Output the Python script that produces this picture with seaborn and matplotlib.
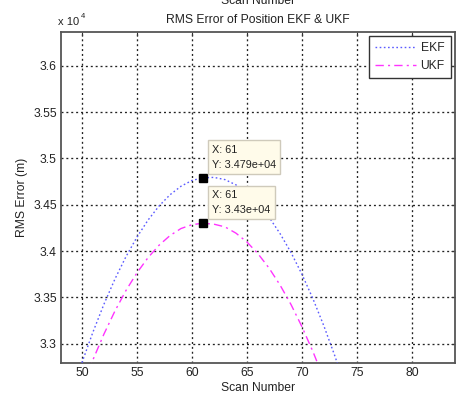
import numpy as np
import pandas as pd
import matplotlib
matplotlib.use("Agg")
import matplotlib.pyplot as plt
from matplotlib.ticker import FuncFormatter, MultipleLocator
from matplotlib.lines import Line2D
import seaborn as sns

# ---- data ----
scan = [50, 51, 52, 53, 54, 55, 56, 57, 58, 59, 60, 61,
        62, 63, 64, 65, 66, 67, 68, 69, 70, 71, 72, 73, 74]
ekf = [32795, 33125, 33426, 33698, 33939, 34150, 34333, 34485, 34607, 34699,
       34762, 34790, 34795, 34771, 34714, 34628, 34512, 34366, 34189, 33984,
       33748, 33483, 33188, 32863, 32508]
ukf = [32520, 32826, 33104, 33353, 33574, 33765, 33928, 34062, 34167, 34243,
       34285, 34300, 34290, 34261, 34193, 34097, 33971, 33817, 33634, 33423,
       33182, 32913, 32615, 32290, 31940]
tip_x = 61
tip_ekf = 34790
tip_ukf = 34300
x_ticks = [50, 55, 60, 65, 70, 75, 80]
title = "RMS Error of Position EKF & UKF"
xlabel = "Scan Number"
ylabel = "RMS Error (m)"

df = pd.DataFrame({
    "Scan": scan * 2,
    "RMS": ekf + ukf,
    "Filter": ["EKF"] * len(scan) + ["UKF"] * len(scan),
})

sns.set_style("white")
plt.rcParams["font.family"] = ["Liberation Sans", "DejaVu Sans"]
plt.rcParams["xtick.direction"] = "in"
plt.rcParams["ytick.direction"] = "in"

W, H = 457, 397
fig = plt.figure(figsize=(W / 100, H / 100), dpi=100)
L, R, T, B = 61, 455, 31.5, 363.3
ax = fig.add_axes([L / W, 1 - B / H, (R - L) / W, (B - T) / H])

palette = {"EKF": "#5b5bff", "UKF": "#ff33ff"}
sns.lineplot(data=df, x="Scan", y="RMS", hue="Filter", style="Filter",
             palette=palette,
             dashes={"EKF": (1.2, 1.8), "UKF": (6, 3, 1.5, 3)},
             linewidth=1.0, ax=ax, legend=False, zorder=3)

ax.set_xlim(48.1, 83.9)
ax.set_ylim(32789, 36369)
ax.set_xticks(x_ticks)
ax.yaxis.set_major_locator(MultipleLocator(500))
ax.yaxis.set_major_formatter(FuncFormatter(lambda v, p: f"{v/1e4:g}"))
ax.tick_params(axis="both", labelsize=8.7, colors="#333333", length=3,
               width=0.8, labelcolor="#222222", pad=3)
ax.tick_params(top=True, right=True)

ax.grid(True, color="#222222", linestyle=(0, (1.5, 2.2)), linewidth=0.95)
for s in ax.spines.values():
    s.set_color("#555555")
    s.set_linewidth(1.3)
    s.set_visible(True)

ax.set_xlabel(xlabel, fontsize=8.7, color="#222222", labelpad=2)
ax.set_ylabel(ylabel, fontsize=8.7, color="#222222", labelpad=4)
ax.set_title(title, fontsize=8.7, color="#222222", pad=6)

# exponent label
fig.text(58 / W, 1 - 25 / H, "x 10", fontsize=8, color="#222222",
         ha="left", va="baseline")
fig.text(81 / W, 1 - 18 / H, "4", fontsize=5.5, color="#222222",
         ha="left", va="baseline")
# cropped label from the figure above (cut off in the reference too)
fig.text((L + R) / 2 / W, 1 - 4 / H, xlabel, fontsize=8.7, color="#222222",
         ha="center", va="baseline")

# legend
handles = [Line2D([], [], color=palette["EKF"], linestyle=(0, (1.2, 1.8)), lw=1.0),
           Line2D([], [], color=palette["UKF"], linestyle=(0, (6, 3, 1.5, 3)), lw=1.0)]
leg = ax.legend(handles, ["EKF", "UKF"], loc="upper right", fontsize=8.7,
                frameon=True, fancybox=False, handlelength=3.4,
                borderaxespad=0.35, borderpad=0.5, labelspacing=0.55,
                handletextpad=0.4)
leg.get_frame().set_edgecolor("#333333")
leg.get_frame().set_linewidth(1.0)
leg.get_frame().set_facecolor("white")
leg.get_frame().set_alpha(1)

# data tips
for yv, lbl in [(tip_ekf, "3.479e+04"), (tip_ukf, "3.43e+04")]:
    ax.plot([tip_x], [yv], marker="s", color="black", markersize=5.5,
            linestyle="none", zorder=6)
    ax.annotate(f"X: {tip_x}\nY: {lbl}", xy=(tip_x, yv), xytext=(6.5, 6),
                textcoords="offset points", ha="left", va="bottom",
                fontsize=7.8, color="#222222", zorder=7, linespacing=1.6,
                bbox=dict(boxstyle="square,pad=0.4", fc="#fffbea",
                          ec="#cfcabb", lw=1.0))

fig.savefig("out.png", dpi=100)
